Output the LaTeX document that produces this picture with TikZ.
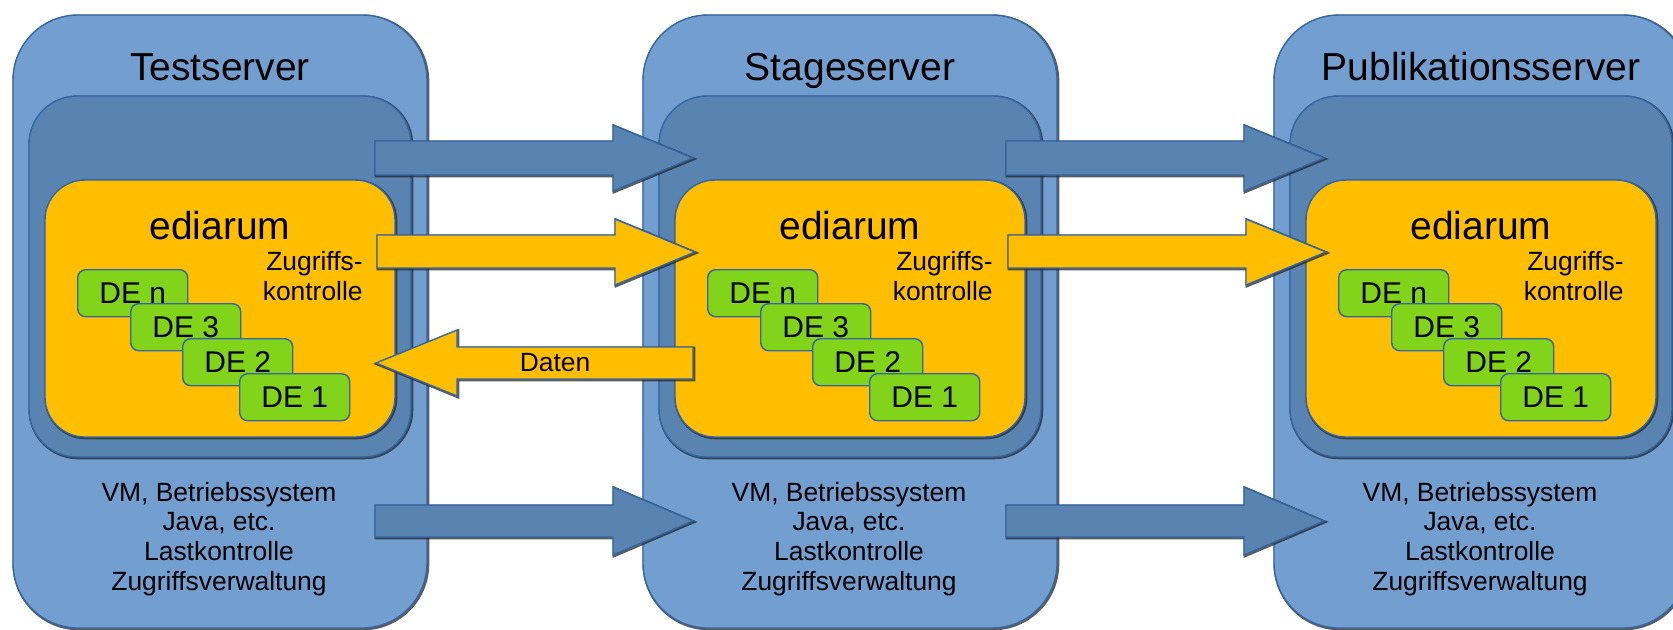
\documentclass[tikz,border=0pt]{standalone}
\usepackage{fontspec}
\setmainfont{Liberation Sans}
\definecolor{outerblue}{HTML}{729FCF}
\definecolor{midblue}{HTML}{5983B0}
\definecolor{edgeblue}{HTML}{3465A4}
\definecolor{ylw}{HTML}{FFBF00}
\definecolor{grn}{HTML}{81D41A}
\tikzset{
  shad/.style={preaction={draw=black!85, opacity=0.75, line width=1.4pt,
      transform canvas={shift={(0.45pt,-0.45pt)}}}},
  boxbase/.style={shad, draw=edgeblue, line width=0.7pt, inner sep=0pt, outer sep=0pt, anchor=north west},
  outerbox/.style={boxbase, fill=outerblue, rounded corners=32.5pt, minimum width=207pt, minimum height=306.5pt},
  midbox/.style={boxbase, fill=midblue, rounded corners=24pt, minimum width=191pt, minimum height=180.5pt},
  ybox/.style={boxbase, fill=ylw, rounded corners=20pt, minimum width=175pt, minimum height=128.5pt},
  debox/.style={draw=edgeblue, fill=grn, line width=0.7pt, rounded corners=4pt, inner sep=0pt,
      minimum width=55pt, minimum height=23.5pt, anchor=north west, font=\fontsize{15}{18}\selectfont},
  bigtext/.style={font=\fontsize{19.5}{23}\selectfont, inner sep=0pt},
  smalltext/.style={font=\fontsize{13.2}{14.8}\selectfont, inner sep=0pt},
  barrow/.style={shad, draw=edgeblue, line width=0.7pt, fill=midblue, line join=miter},
  yarrow/.style={shad, draw=edgeblue, line width=0.7pt, fill=ylw, line join=miter},
}
\begin{document}
\begin{tikzpicture}[x=0.5pt,y=-0.5pt]
\useasboundingbox (0,0) rectangle (1673,629);
\clip (0,0) rectangle (1673,629);
\foreach \X/\T/\i in {13/Testserver/1, 643/Stageserver/2, 1274/Publikationsserver/3}{
  \node[outerbox] (srv\i) at (\X,15) {};
  \node[midbox] (vm\i) at (\X+16,96) {};
  \node[ybox] (ed\i) at (\X+32,180) {};
  \node[bigtext, anchor=base] (t\i) at (\X+207,80) {\T};
  \node[bigtext, anchor=base] (e\i) at (\X+207,239) {ediarum};
  \node[smalltext, align=right, anchor=base east] (z\i) at (\X+350,300) {Zugriffs-\\kontrolle};
  \foreach \dx/\dy/\lab in {64/269/n, 117/303/3, 169/338/2, 226/373/1}{
    \node[debox] (de\i\lab) at (\X+\dx,\dy) {DE \lab};
  }
  \node[smalltext, align=center, anchor=base] (os\i) at (\X+206,590)
    {VM, Betriebssystem\\Java, etc.\\Lastkontrolle\\Zugriffsverwaltung};
}
\foreach \o in {0,631}{
  \draw[barrow] (375+\o,141) -- (613+\o,141) -- (613+\o,125) -- (693+\o,158) -- (613+\o,191) -- (613+\o,175) -- (375+\o,175) -- cycle;
  \draw[yarrow] (377+\o,235) -- (615+\o,235) -- (615+\o,219) -- (695+\o,252) -- (615+\o,285) -- (615+\o,268) -- (377+\o,268) -- cycle;
  \draw[barrow] (375+\o,505) -- (613+\o,505) -- (613+\o,487) -- (693+\o,521) -- (613+\o,555) -- (613+\o,537) -- (375+\o,537) -- cycle;
}
\draw[yarrow] (693,347) -- (457,347) -- (457,330) -- (376,363) -- (457,396) -- (457,379) -- (693,379) -- cycle;
\node[smalltext] (daten) at (555,363) {Daten};
\end{tikzpicture}
\end{document}
